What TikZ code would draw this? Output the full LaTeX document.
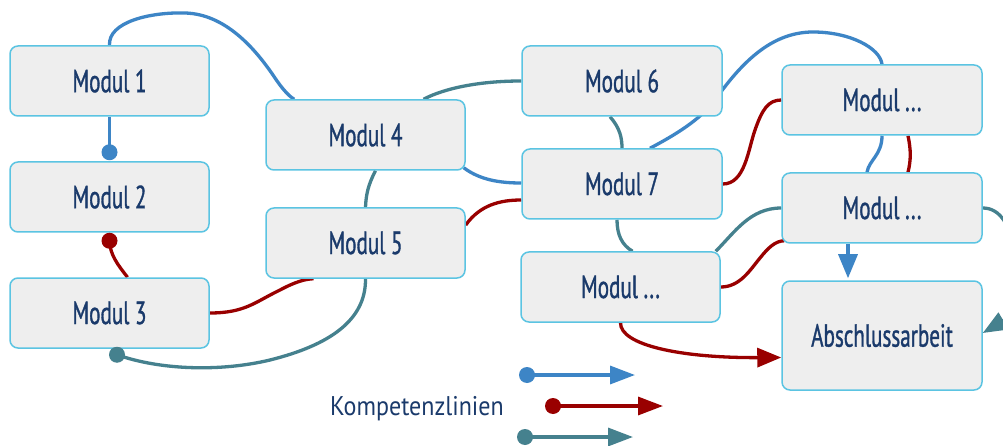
\documentclass[tikz,border=0pt]{standalone}
\usepackage{fontspec}
\usetikzlibrary{arrows.meta}
\newfontfamily\modfont[FakeStretch=0.66,FakeBold=1.0]{PT Sans}
\newfontfamily\legfont[FakeStretch=0.89]{PT Sans}
\definecolor{kblue}{HTML}{3D85C6}
\definecolor{kred}{HTML}{990000}
\definecolor{kteal}{HTML}{45818E}
\definecolor{boxline}{HTML}{5BC4E2}
\definecolor{boxfill}{HTML}{EEEEEE}
\definecolor{txt}{HTML}{1A3A6B}
\pgfdeclarelayer{bg}
\pgfsetlayers{bg,main}
\begin{document}
\begin{tikzpicture}[x=1pt,y=-1pt,
  modbox/.style={draw=boxline,fill=boxfill,line width=1.5pt,rounded corners=8pt,
    minimum width=199pt,minimum height=70pt,inner sep=0pt,text=txt,
    font=\modfont\fontsize{32}{36}\selectfont},
  lnk/.style={line width=3.3pt},
  bl/.style={lnk,draw=kblue},
  rd/.style={lnk,draw=kred},
  tl/.style={lnk,draw=kteal},
  bigtip/.style={-{Triangle[length=24pt,width=19pt]}},
]
\useasboundingbox (0,0) rectangle (1003,446);
% nodes
\node[modbox] (m1) at (109.5,81) {Modul 1};
\node[modbox] (m2) at (109.5,197) {Modul 2};
\node[modbox] (m3) at (109.5,313) {Modul 3};
\node[modbox] (m4) at (365.5,135) {Modul 4};
\node[modbox] (m5) at (365.5,243) {Modul 5};
\node[modbox,minimum width=200pt] (m6) at (622,81) {Modul 6};
\node[modbox,minimum width=200pt] (m7) at (622,184) {Modul 7};
\node[modbox] (bl) at (620.5,287) {Modul ...};
\node[modbox,minimum width=200pt] (tr) at (882,100) {Modul ...};
\node[modbox,minimum width=200pt] (mr) at (882,208) {Modul ...};
\node[modbox,minimum width=200pt,minimum height=109pt] (ab) at (882,335.5) {Abschlussarbeit};
\node[anchor=base west,text=txt,inner sep=0pt,font=\legfont\fontsize{27}{30}\selectfont] (leg) at (330,415) {Kompetenzlinien};
% coordinates
\coordinate (d1) at ([yshift=9pt]m2.north);
\coordinate (d2) at ([yshift=-8pt]m2.south);
\coordinate (d3) at ([xshift=7.5pt,yshift=-6pt]m3.south);
\coordinate (lb1) at (527,375);
\coordinate (lb2) at (635,375);
\coordinate (lr1) at (553,406);
\coordinate (lr2) at (663,406);
\coordinate (lt1) at (525,437);
\coordinate (lt2) at (633,437);
\begin{pgfonlayer}{bg}
\fill[white] (0,0) rectangle (1003,446);
% blue
\draw[bl] (m1.north) .. controls (108,22) and (150,12) .. (185,13)
   .. controls (225,14) and (255,48) .. (275,78) .. controls (283,90) and (290,97) .. ([xshift=29pt]m4.north west);
\draw[bl] (m1.south) -- (d1);
\draw[bl] ([xshift=-2pt,yshift=3pt]m4.south east) .. controls (480,180) and (500,183) .. ([yshift=1pt]m7.west);
\draw[bl] ([xshift=28pt]m7.north) .. controls (675,135) and (700,120) .. (715,100)
   .. controls (740,65) and (770,32) .. (813,32) .. controls (850,32) and (880,48) .. (tr.north);
\draw[bl] (tr.south) .. controls (882,155) and (869,160) .. ([xshift=-15pt]mr.north);
\draw[bl,bigtip] ([xshift=-34pt]mr.south) -- ([xshift=-34pt,yshift=2pt]ab.north);
% red
\draw[rd] ([xshift=18pt]m3.north) .. controls (118,265) and (110,255) .. (d2);
\draw[rd] (m3.east) .. controls (245,313) and (255,302) .. (280,290) .. controls (295,282) and (305,279) .. ([xshift=-52pt]m5.south);
\draw[rd] ([yshift=18pt]m5.east) .. controls (480,205) and (500,200) .. ([yshift=-16pt]m7.west);
\draw[rd] (m7.east) .. controls (745,184) and (748,150) .. (755,130) .. controls (762,110) and (768,100) .. (tr.west);
\draw[rd] ([xshift=26pt]tr.south) .. controls (911,150) and (911,160) .. ([xshift=26pt]mr.north);
\draw[rd] (bl.east) .. controls (740,287) and (750,270) .. (760,258) .. controls (768,248) and (775,241) .. ([xshift=3pt,yshift=3pt]mr.south west);
\draw[rd,bigtip] (bl.south) .. controls (620,345) and (680,358) .. ([yshift=-22pt]ab.west);
% teal
\draw[tl] (m5.south) .. controls (366,320) and (330,345) .. (270,360) .. controls (220,372) and (160,370) .. (d3);
\draw[tl] ([xshift=10pt]m4.south) .. controls (368,185) and (366,195) .. (m5.north);
\draw[tl] ([xshift=58pt]m4.north) .. controls (445,88) and (480,81) .. (m6.west);
\draw[tl] ([xshift=-12pt]m6.south) .. controls (620,128) and (622,138) .. (m7.north);
\draw[tl] ([xshift=-5pt]m7.south) .. controls (617,235) and (622,245) .. ([xshift=12pt]bl.north);
\draw[tl] ([xshift=-5pt]bl.north east) .. controls (735,232) and (750,208) .. (mr.west);
\draw[tl,bigtip] (mr.east) .. controls (1000,208) and (1012,225) .. (1015,260) .. controls (1018,300) and (1005,320) .. ([yshift=2.5pt]ab.east);
\end{pgfonlayer}
% dots
\fill[kblue] (d1) circle (8pt);
\fill[kred] (d2) circle (8pt);
\fill[kteal] (d3) circle (8pt);
% legend
\draw[bl,-{Triangle[length=25pt,width=18pt]}] (lb1) -- (lb2);
\fill[kblue] (lb1) circle (8pt);
\draw[rd,-{Triangle[length=25pt,width=18pt]}] (lr1) -- (lr2);
\fill[kred] (lr1) circle (8pt);
\draw[tl,-{Triangle[length=25pt,width=18pt]}] (lt1) -- (lt2);
\fill[kteal] (lt1) circle (8pt);
\end{tikzpicture}
\end{document}
